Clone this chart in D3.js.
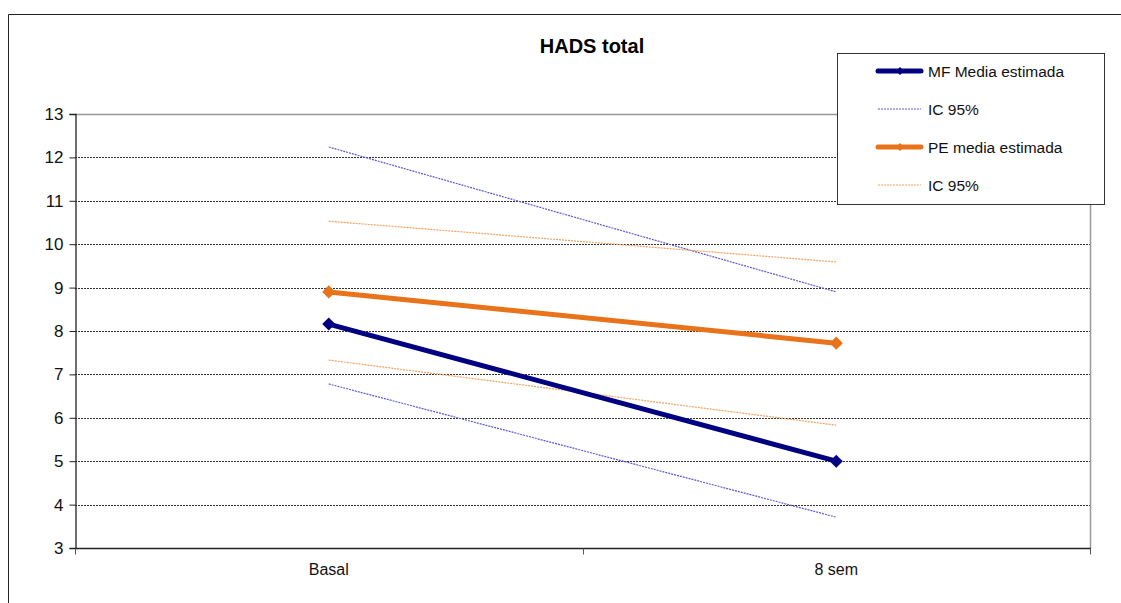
<!DOCTYPE html>
<html>
<head>
<meta charset="utf-8">
<script src="https://cdn.jsdelivr.net/npm/d3@7/dist/d3.min.js"></script>
<style>
  body { margin: 0; background: #fff; }
  svg text { font-family: "Liberation Sans", Arial, sans-serif; }
</style>
</head>
<body>
<svg id="chart" width="1121" height="603"></svg>
<script>
// Time points
const categories = ["Basal", "8 sem"];
// Estimated means and 95% confidence limits
const mfMean  = [8.16, 5.00];
const mfUpper = [12.24, 8.90];
const mfLower = [6.78, 3.71];
const peMean  = [8.90, 7.72];
const peUpper = [10.53, 9.59];
const peLower = [7.33, 5.83];
const yTicks = [3, 4, 5, 6, 7, 8, 9, 10, 11, 12, 13];
const legendLabels = ["MF Media estimada", "IC 95%", "PE media estimada", "IC 95%"];

const navy = "#000080";
const orange = "#E8731A";
const ciBlue = "#5A5AD0";
const ciOrange = "#F4A060";

const svg = d3.select("#chart");
const plot = { left: 75, right: 1090, top: 114, bottom: 548 };

// Outer frame
svg.append("path")
  .attr("d", "M8.5,603 V14.5 H1121")
  .attr("fill", "none").attr("stroke", "#222").attr("stroke-width", 1);

// Title
svg.append("text")
  .attr("x", 592).attr("y", 53)
  .attr("text-anchor", "middle")
  .attr("font-size", 20).attr("font-weight", "bold")
  .text("HADS total");

const x = d3.scaleBand().domain(categories).range([plot.left, plot.right]);
const xc = d => x(d) + x.bandwidth() / 2;
const y = d3.scaleLinear().domain([3, 13]).range([plot.bottom, plot.top]);

// Gridlines
svg.append("g").selectAll("line")
  .data(yTicks.filter(t => t > 3 && t < 13))
  .join("line")
  .attr("x1", plot.left).attr("x2", plot.right)
  .attr("y1", d => Math.round(y(d)) + 0.5).attr("y2", d => Math.round(y(d)) + 0.5)
  .attr("stroke", "#333").attr("stroke-width", 1).attr("stroke-dasharray", "2,1");

// Plot-area border (top and right)
svg.append("path")
  .attr("d", `M${plot.left},${Math.round(y(13)) + 0.5} H${plot.right + 0.5} V${plot.bottom}`)
  .attr("fill", "none").attr("stroke", "#999").attr("stroke-width", 1.5);

// Y axis
const yAxis = svg.append("g")
  .attr("transform", `translate(${plot.left + 0.5},0)`)
  .call(d3.axisLeft(y).tickValues(yTicks).tickSize(6).tickPadding(6).tickFormat(d3.format("d")));
yAxis.select(".domain").attr("stroke", "#222").attr("stroke-width", 1.3);
yAxis.selectAll(".tick line").attr("stroke", "#222");
yAxis.selectAll(".tick text").attr("font-size", 17).attr("fill", "#111");

// X axis: category boundaries as tick marks, labels at band centers
const xAxisG = svg.append("g").attr("transform", `translate(0,${plot.bottom + 0.5})`);
xAxisG.append("line")
  .attr("x1", plot.left).attr("x2", plot.right + 1)
  .attr("stroke", "#222").attr("stroke-width", 1.5);
const bounds = categories.map(c => x(c)).concat([plot.right]);
xAxisG.selectAll("line.tk").data(bounds).join("line")
  .attr("class", "tk")
  .attr("x1", d => Math.round(d) + 0.5).attr("x2", d => Math.round(d) + 0.5)
  .attr("y1", 0).attr("y2", 6)
  .attr("stroke", "#555").attr("stroke-width", 1);
xAxisG.selectAll("text").data(categories).join("text")
  .attr("x", d => xc(d)).attr("y", 26)
  .attr("text-anchor", "middle").attr("font-size", 16).attr("fill", "#111")
  .text(d => d);

const line = d3.line().x((d, i) => xc(categories[i])).y(d => y(d));

// Confidence limits
function ci(values, color) {
  svg.append("path").datum(values)
    .attr("d", line).attr("fill", "none")
    .attr("stroke", color).attr("stroke-width", 1.2).attr("stroke-dasharray", "2,1");
}
ci(mfUpper, ciBlue); ci(mfLower, ciBlue);
ci(peUpper, ciOrange); ci(peLower, ciOrange);

const diamond = d3.symbol().type(d3.symbolDiamond2).size(110);

function meanSeries(values, color) {
  svg.append("path").datum(values)
    .attr("d", line).attr("fill", "none")
    .attr("stroke", color).attr("stroke-width", 5);
  svg.append("g").selectAll("path").data(values).join("path")
    .attr("d", diamond)
    .attr("transform", (d, i) => `translate(${xc(categories[i])},${y(d)})`)
    .attr("fill", color);
}
meanSeries(peMean, orange);
meanSeries(mfMean, navy);

// Legend
const lg = svg.append("g");
lg.append("rect")
  .attr("x", 837.5).attr("y", 53.5).attr("width", 267).attr("height", 151)
  .attr("fill", "#fff").attr("stroke", "#333").attr("stroke-width", 1);
const legendStyles = [
  { color: navy, width: 5, dash: null, marker: true },
  { color: ciBlue, width: 1, dash: "2,1", marker: false },
  { color: orange, width: 5, dash: null, marker: true },
  { color: ciOrange, width: 1, dash: "2,1", marker: false }
];
const ly = [71, 109, 147, 185];
legendLabels.forEach((lab, i) => {
  const s = legendStyles[i];
  lg.append("line")
    .attr("x1", 878).attr("x2", 921).attr("y1", ly[i]).attr("y2", ly[i])
    .attr("stroke", s.color).attr("stroke-width", s.width)
    .attr("stroke-linecap", s.marker ? "round" : "butt")
    .attr("stroke-dasharray", s.dash);
  if (s.marker) {
    lg.append("path").attr("d", d3.symbol().type(d3.symbolDiamond2).size(40))
      .attr("transform", `translate(900,${ly[i]})`).attr("fill", s.color);
  }
  lg.append("text")
    .attr("x", 928).attr("y", ly[i] + 5.5)
    .attr("font-size", 15.5).attr("fill", "#111")
    .text(lab);
});
</script>
</body>
</html>
